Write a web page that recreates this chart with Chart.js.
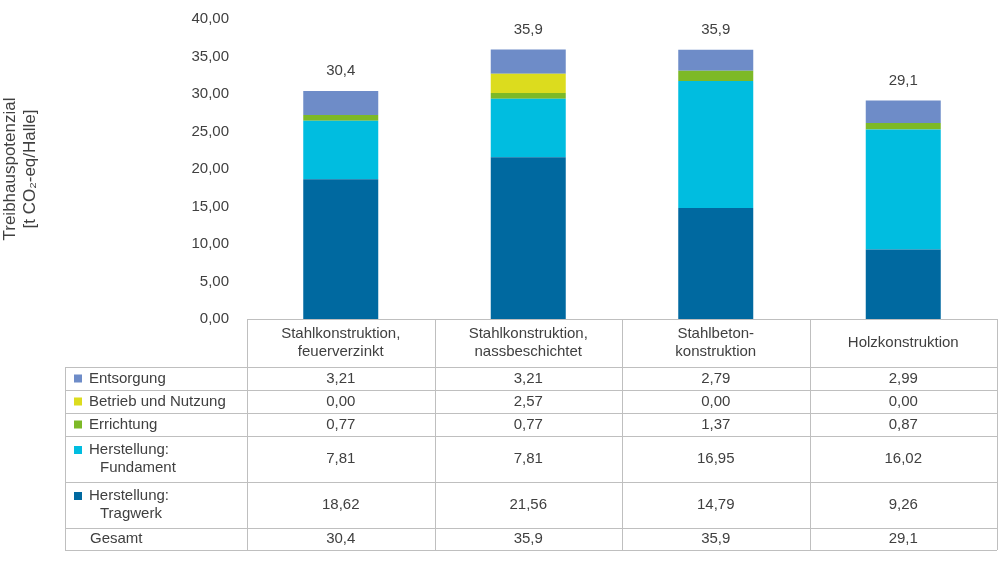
<!DOCTYPE html>
<html>
<head>
<meta charset="utf-8">
<script src="https://cdn.jsdelivr.net/npm/chart.js@4"></script>
<style>
  body { margin: 0; background: #fff; }
  #wrap { width: 1000px; height: 561px; }
</style>
</head>
<body>
<div id="wrap"><canvas id="myChart" width="1000" height="561"></canvas></div>
<script>
const categories = [['Stahlkonstruktion,', 'feuerverzinkt'], ['Stahlkonstruktion,', 'nassbeschichtet'], ['Stahlbeton-', 'konstruktion'], ['Holzkonstruktion']];
const tragwerk = [18.62, 21.56, 14.79, 9.26];
const fundament = [7.81, 7.81, 16.95, 16.02];
const errichtung = [0.77, 0.77, 1.37, 0.87];
const betrieb = [0.00, 2.57, 0.00, 0.00];
const entsorgung = [3.21, 3.21, 2.79, 2.99];
const gesamt = ['30,4', '35,9', '35,9', '29,1'];

const FONT = '"Liberation Sans", Arial, sans-serif';
const TXT = '#404040';

const fmt2 = v => v.toFixed(2).replace('.', ',');

// rows of the data table, top to bottom
const tableRows = [
    { label: ['Entsorgung'], color: '#6E8CC8', vals: entsorgung.map(fmt2), h: 23 },
    { label: ['Betrieb und Nutzung'], color: '#DCDC1E', vals: betrieb.map(fmt2), h: 23 },
    { label: ['Errichtung'], color: '#7DB927', vals: errichtung.map(fmt2), h: 23 },
    { label: ['Herstellung:', 'Fundament'], color: '#00BDE0', vals: fundament.map(fmt2), h: 46 },
    { label: ['Herstellung:', 'Tragwerk'], color: '#0069A0', vals: tragwerk.map(fmt2), h: 46 },
    { label: ['Gesamt'], color: null, vals: gesamt, h: 22 }
];

const tablePlugin = {
    id: 'table',
    afterDraw(chart) {
        const ctx = chart.ctx;
        const area = chart.chartArea;
        const n = categories.length;
        const w = (area.right - area.left) / n;
        const headerH = 48;
        const leftX = 65;
        const top = area.bottom;
        let total = headerH;
        tableRows.forEach(r => total += r.h);
        const bottom = top + total;

        ctx.save();
        ctx.strokeStyle = '#BFBFBF';
        ctx.lineWidth = 1;
        ctx.beginPath();
        // header row lines
        ctx.moveTo(area.left, top + 0.5); ctx.lineTo(area.right, top + 0.5);
        for (let i = 0; i <= n; i++) {
            const x = Math.round(area.left + i * w) + 0.5;
            ctx.moveTo(x, top); ctx.lineTo(x, bottom);
        }
        ctx.moveTo(leftX + 0.5, top + headerH); ctx.lineTo(leftX + 0.5, bottom);
        let y = top + headerH;
        ctx.moveTo(leftX, y + 0.5); ctx.lineTo(area.right, y + 0.5);
        tableRows.forEach(r => {
            y += r.h;
            ctx.moveTo(leftX, Math.round(y) + 0.5); ctx.lineTo(area.right, Math.round(y) + 0.5);
        });
        ctx.stroke();

        ctx.fillStyle = TXT;
        ctx.font = '15px ' + FONT;
        ctx.textAlign = 'center';
        ctx.textBaseline = 'middle';
        categories.forEach((c, i) => {
            const cx = area.left + (i + 0.5) * w;
            const lines = c;
            lines.forEach((t, k) => {
                ctx.fillText(t, cx, top + headerH / 2 + (k - (lines.length - 1) / 2) * 18);
            });
        });

        y = top + headerH;
        tableRows.forEach(r => {
            const cy = y + r.h / 2;
            if (r.color) {
                ctx.fillStyle = r.color;
                ctx.fillRect(74, (r.label.length > 1 ? cy - 9 : cy) - 4, 8, 8);
            }
            ctx.fillStyle = TXT;
            ctx.textAlign = 'left';
            r.label.forEach((t, k) => {
                const lx = k === 0 ? (r.color ? 89 : 90) : 100;
                ctx.fillText(t, lx, cy + (k - (r.label.length - 1) / 2) * 18);
            });
            ctx.textAlign = 'center';
            r.vals.forEach((v, i) => {
                ctx.fillText(v, area.left + (i + 0.5) * w, cy);
            });
            y += r.h;
        });

        // totals above the bars
        const ys = chart.scales.y;
        categories.forEach((c, i) => {
            const sum = tragwerk[i] + fundament[i] + errichtung[i] + betrieb[i] + entsorgung[i];
            ctx.fillText(gesamt[i], area.left + (i + 0.5) * w, ys.getPixelForValue(sum) - 20);
        });
        ctx.restore();
    }
};

const mk = (label, data, color) => ({ label, data, backgroundColor: color, barPercentage: 0.4, categoryPercentage: 1 });

new Chart(document.getElementById('myChart'), {
    type: 'bar',
    data: {
        labels: categories.map(c => c.join(' ')),
        datasets: [
            mk('Herstellung: Tragwerk', tragwerk, '#0069A0'),
            mk('Herstellung: Fundament', fundament, '#00BDE0'),
            mk('Errichtung', errichtung, '#7DB927'),
            mk('Betrieb und Nutzung', betrieb, '#DCDC1E'),
            mk('Entsorgung', entsorgung, '#6E8CC8')
        ]
    },
    options: {
        responsive: false,
        animation: false,
        layout: { padding: { top: 8, bottom: 234, right: 3, left: 0 } },
        plugins: { legend: { display: false }, tooltip: { enabled: false } },
        scales: {
            x: {
                stacked: true,
                grid: { display: false },
                border: { display: false },
                ticks: { display: false }
            },
            y: {
                stacked: true,
                min: 0, max: 40,
                afterFit(scale) { scale.width = 247; },
                grid: { display: false },
                border: { display: false },
                ticks: {
                    stepSize: 5,
                    padding: 10,
                    color: TXT,
                    font: { family: FONT, size: 15 },
                    callback: v => fmt2(v)
                },
                title: {
                    display: true,
                    text: ['Treibhauspotenzial', '[t CO₂-eq/Halle]'],
                    color: TXT,
                    font: { family: FONT, size: 17 },
                    padding: 0
                }
            }
        }
    },
    plugins: [tablePlugin]
});
</script>
</body>
</html>
